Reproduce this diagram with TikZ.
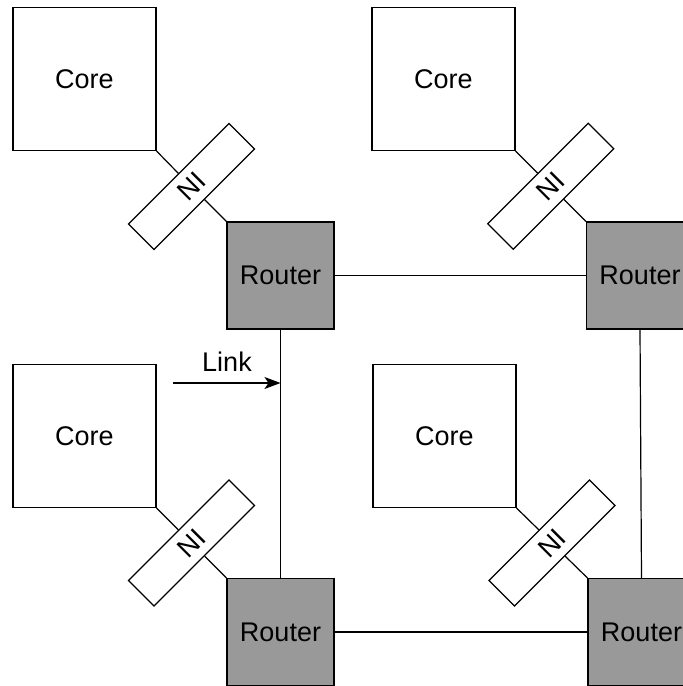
\documentclass[tikz,border=0pt]{standalone}
\usepackage{fontspec}
\setmainfont{Liberation Sans}
\usetikzlibrary{arrows.meta}
\definecolor{routergray}{HTML}{999999}

\begin{document}
\begin{tikzpicture}[x=1pt, y=-1pt, line width=1.2pt, font=\fontsize{27}{32}\selectfont,
	core/.style={draw, minimum width=143pt, minimum height=143pt, inner sep=0pt},
	router/.style={draw, fill=routergray, minimum width=107pt, minimum height=107pt, inner sep=0pt},
	ni/.style={draw, fill=white, rotate=45, minimum width=142pt, minimum height=36pt, inner sep=0pt}]

				\useasboundingbox (0, 0) rectangle (683, 686);

				\node [core] (C1) at (84.5, 79) {Core};
				\node [core] (C2) at (443.5, 79) {Core};
				\node [core] (C3) at (84.5, 436) {Core};
				\node [core] (C4) at (444.5, 436) {Core};

				\node [router] (R1) at (280.5, 275.5) {Router};
				\node [router] (R2) at (640, 275.5) {Router};
				\node [router] (R3) at (280.5, 632) {Router};
				\node [router] (R4) at (641.5, 632) {Router};

				\node [ni] (N1) at (191.5, 186.5) {NI};
				\node [ni] (N2) at (550.75, 186.25) {NI};
				\node [ni] (N3) at (191.5, 543) {NI};
				\node [ni] (N4) at (552, 543) {NI};

				%------
				\draw (C1.south east) -- (N1.north);
				\draw (N1.south) -- (R1.north west);
				\draw (C2.south east) -- (N2.north);
				\draw (N2.south) -- (R2.north west);
				\draw (C3.south east) -- (N3.north);
				\draw (N3.south) -- (R3.north west);
				\draw (C4.south east) -- (N4.north);
				\draw (N4.south) -- (R4.north west);

				\draw (R1.east) -- (R2.west);
				\draw (R3.east) -- (R4.west);
				\draw (R1.south) -- (R3.north);
				\draw (R2.south) -- (R4.north);

				\coordinate (linkstart) at (173, 383);
				\coordinate (linkend) at (R1.south |- linkstart);
				\node (linklabel) at (227, 362) {Link};
				\draw [-{Stealth[length=16pt, width=12pt, inset=4pt]}] (linkstart) -- (linkend);
\end{tikzpicture}
\end{document}
